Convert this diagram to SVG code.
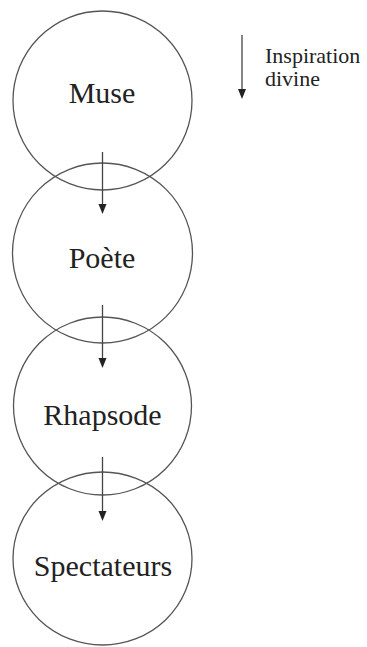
<svg xmlns="http://www.w3.org/2000/svg" width="367" height="647" viewBox="0 0 367 647">
<style>
.c{fill:none;stroke:#555;stroke-width:1.3}
.l{font-family:"Liberation Serif","Times New Roman",serif;font-size:30px;fill:#222;text-anchor:middle}
.s{font-family:"Liberation Serif","Times New Roman",serif;font-size:22px;fill:#222}
.a{stroke:#444;stroke-width:1.3;fill:none}
.h{fill:#222}
</style>
<rect width="367" height="647" fill="#fff"/>
<g id="muse"><circle class="c" cx="102.5" cy="100.5" r="89.5"/><text class="l" x="102" y="103">Muse</text></g>
<g id="poete"><circle class="c" cx="102.5" cy="253" r="90"/><text class="l" x="102" y="268">Poète</text></g>
<g id="rhapsode"><circle class="c" cx="102.5" cy="406" r="89"/><text class="l" x="102.5" y="425">Rhapsode</text></g>
<g id="spectateurs"><ellipse class="c" cx="102.5" cy="558.5" rx="89.5" ry="86.5"/><text class="l" x="103" y="576">Spectateurs</text></g>
<g id="connectors">
<line class="a" x1="102.5" y1="152" x2="102.5" y2="205"/><polygon class="h" points="98.5,204 106.5,204 102.5,214"/>
<line class="a" x1="102.5" y1="305" x2="102.5" y2="359"/><polygon class="h" points="98.5,358 106.5,358 102.5,368"/>
<line class="a" x1="102.5" y1="457" x2="102.5" y2="512"/><polygon class="h" points="98.5,511 106.5,511 102.5,521"/>
</g>
<g id="legend">
<line class="a" x1="242" y1="35" x2="242" y2="90"/><polygon class="h" points="238,89 246,89 242,99"/>
<text class="s" x="265" y="63">Inspiration</text>
<text class="s" x="265" y="86">divine</text>
</g>
</svg>
